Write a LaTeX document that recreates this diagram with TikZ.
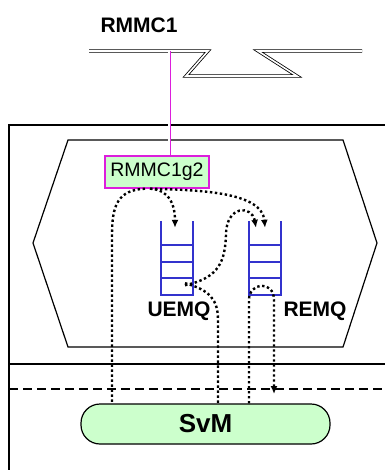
\documentclass[tikz,border=0pt]{standalone}
\usepackage{fontspec}
\setmainfont{Liberation Sans}
\usepackage{tikz}
\usetikzlibrary{arrows.meta}
\definecolor{mylime}{RGB}{204,255,204}
\definecolor{mymagenta}{RGB}{220,30,220}
\definecolor{myqblue}{RGB}{50,50,205}

\begin{document}
\begin{tikzpicture}[x=1pt, y=-1pt,
    wire/.style={double, line width=0.8pt, double distance=1.6pt},
    tapline/.style={draw=mymagenta, double=white, line width=0.9pt, double distance=1.2pt},
    frame/.style={line width=1.2pt},
    queue/.style={draw=myqblue, line width=1.7pt},
    qbox/.style={minimum width=32pt, minimum height=74pt, inner sep=0pt},
    lbl/.style={font=\bfseries\fontsize{21}{21}\selectfont},
    msg/.style={line width=2.4pt, dash pattern=on 2.4pt off 2.6pt},
    tip/.style={-{Latex[length=8pt, width=7pt]}}
]
\useasboundingbox (0,0) rectangle (385,470);
\node[lbl] (rmmc) at (139,25) {RMMC1};
\draw[wire] (89,51) -- (208,51) -- (186,76) -- (297,76) -- (258,51) -- (362,51);
\coordinate (tap) at (169,51);
\draw[frame] (9,470) -- (9,125) -- (385,125);
\draw[frame] (68,140) -- (343,140) -- (377,243) -- (343,347) -- (68,347) -- (33,243) -- cycle;
\draw[frame] (9,364) -- (385,364);
\draw[frame, dash pattern=on 9pt off 5pt] (9,389) -- (385,389);
\node[draw=mymagenta, fill=mylime, line width=1.4pt, minimum width=104pt,
    minimum height=32pt, inner sep=0pt, font=\fontsize{19.5}{19.5}\selectfont] (g2) at (157,172) {RMMC1g2};
\draw[tapline] (tap) -- (tap |- g2.north);
\node[qbox] (uq) at (177,258) {};
\node[qbox] (rq) at (265,258) {};
\foreach \q in {uq,rq} {
  \draw[queue] (\q.north west) -- (\q.south west) -- (\q.south east) -- (\q.north east);
  \foreach \d in {17,33,50}
    \draw[queue] ([yshift=\d pt]\q.south west) -- ([yshift=\d pt]\q.south east);
}
\node[lbl] (uql) at (179,311) {UEMQ};
\node[lbl] (rql) at (315,311) {REMQ};
\node[draw, fill=mylime, line width=1.2pt, rounded corners=19pt, minimum width=249pt,
    minimum height=40pt, font=\bfseries\fontsize{26}{26}\selectfont] (svm) at (205.5,424) {SvM};
\coordinate (down1) at (112,235);
\coordinate (down2) at (218,320);
\coordinate (up3) at (249,300);
\coordinate (drop) at (274,394);
% message paths
\draw[msg, tip] ([xshift=-7pt]g2.south) .. controls (170,190) and (175,205) .. ([xshift=-2pt,yshift=-7pt]uq.north);
\draw[msg, tip] ([xshift=-7pt]g2.south) .. controls (200,190) and (262,192) .. ([yshift=-7pt]rq.north);
\draw[msg] ([xshift=-12pt]g2.south) .. controls (118,190) and (112,205) .. (down1) -- (down1 |- svm.north);
\draw[msg, tip] ([xshift=8pt,yshift=10pt]uq.south) .. controls (220,278) and (225,260) .. (226,235)
    .. controls (226,205) and (252,205) .. ([xshift=-9pt,yshift=-7pt]rq.north);
\draw[msg] ([xshift=8pt,yshift=12pt]uq.south) .. controls (210,290) and (218,300) .. (down2) -- (down2 |- svm.north);
\draw[msg, tip] (up3 |- svm.north) -- (up3) .. controls (249,282) and (274,280) .. (274,300) -- (drop);
\end{tikzpicture}
\end{document}
